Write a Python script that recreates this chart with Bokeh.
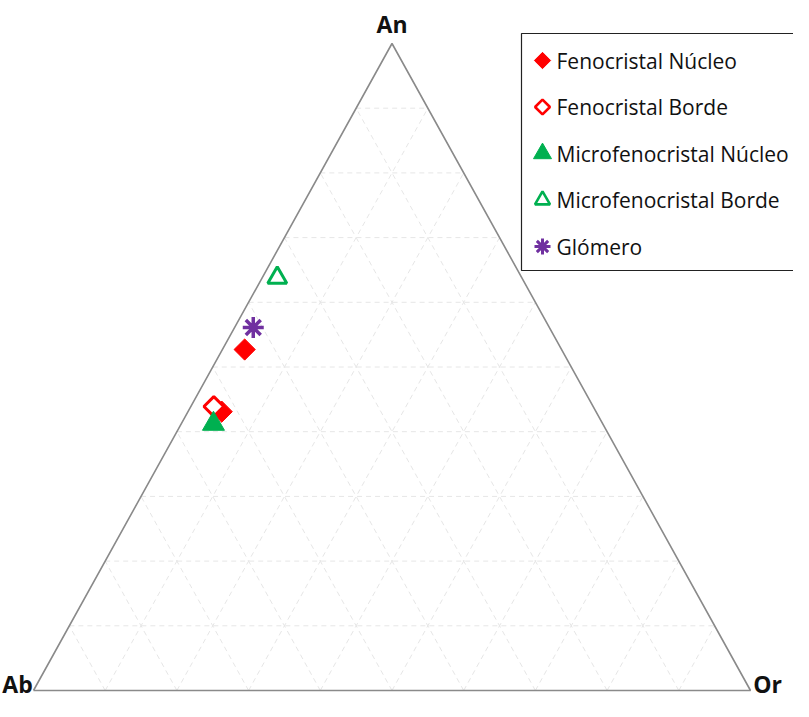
import numpy as np
from bokeh.plotting import figure
from bokeh.models import Range1d
from bokeh.core.properties import value
from bokeh.embed import file_html
from bokeh.resources import INLINE

# ---- data (percent An, percent Or; Ab = remainder) ----
series_names = ["Fenocristal Núcleo", "Fenocristal Borde", "Microfenocristal Núcleo",
                "Microfenocristal Borde", "Glómero"]
fen_nucleo_an = [52.7, 43.1]
fen_nucleo_or = [3.1, 4.7]
fen_borde_an = [43.9]
fen_borde_or = [3.2]
micro_nucleo_an = [41.2]
micro_nucleo_or = [4.5]
micro_borde_an = [63.8]
micro_borde_or = [2.1]
glomero_an = [56.1]
glomero_or = [2.6]
vertex_labels = ["Ab", "Or", "An"]
grid_levels = [10, 20, 30, 40, 50, 60, 70, 80, 90]

# ---- layout (pixels of the canvas) ----
W, H = 793, 701
X0_PX, SPAN_X = 33.0, 717.0      # Ab vertex x, base length
BASE_PX, SPAN_Y = 690.0, 647.0   # base y, triangle height


def px2x(px):
    return (np.asarray(px, dtype=float) - X0_PX) / SPAN_X


def py2y(py):
    return (BASE_PX - np.asarray(py, dtype=float)) / SPAN_Y


def tern(an, or_):
    an = np.asarray(an, dtype=float) / 100.0
    o = np.asarray(or_, dtype=float) / 100.0
    return o + an / 2.0, an


p = figure(width=W, height=H, output_backend="svg", toolbar_location=None,
           x_range=Range1d(float(px2x(0)), float(px2x(W))),
           y_range=Range1d(float(py2y(H)), float(py2y(0))),
           min_border=0, x_axis_location=None, y_axis_location=None)
p.grid.visible = False
p.outline_line_color = None
p.background_fill_color = "white"

# grid lines
gxs, gys = [], []
for g in grid_levels:
    for a0, o0, a1, o1 in [(g, 0, g, 100 - g),          # constant An
                           (0, g, 100 - g, g),          # constant Or
                           (0, 100 - g, 100 - g, 0)]:   # constant Ab
        x0, y0 = tern([a0], [o0])
        x1, y1 = tern([a1], [o1])
        gxs.append([x0[0], x1[0]])
        gys.append([y0[0], y1[0]])
p.multi_line(gxs, gys, line_color="#e6e6e6", line_width=1, line_dash="5 4")

# triangle outline
tx, ty = tern([0, 0, 100, 0], [0, 100, 0, 0])
p.line(tx, ty, line_color="#8a8a8a", line_width=1.6)

# vertex labels
lab_kw = dict(text_font=value("Open Sans"), text_font_style="bold", text_font_size="23px",
              text_align="center", text_baseline="alphabetic", text_color="#111111")
lx, ly = tern([0, 0, 100], [0, 100, 0])
p.text(x=[lx[0] + float(px2x(17) - px2x(X0_PX)), lx[1] + float(px2x(767) - px2x(750))],
       y=[float(py2y(683))] * 2, text=vertex_labels[:2], **lab_kw)
p.text(x=[lx[2]], y=[ly[2] + float(py2y(23) - py2y(43))], text=[vertex_labels[2]], **lab_kw)

RED = "#ff0000"
GREEN = "#00b050"
PURPLE = "#7030a0"

styles = [
    dict(marker="square", angle=np.pi / 4, fill_color=RED, line_color=RED, line_width=1),
    dict(marker="square", angle=np.pi / 4, fill_color="white", line_color=RED, line_width=3),
    dict(marker="triangle", fill_color=GREEN, line_color=GREEN, line_width=1),
    dict(marker="triangle", fill_color="white", line_color=GREEN, line_width=3),
    dict(marker="asterisk", line_color=PURPLE, line_width=3.5),
]
plot_sizes = [15, 14, 22, 19, 21]
legend_sizes = [11.5, 10.5, 18, 15, 16]
legend_lw = [1, 2.6, 1, 2.6, 3]

series = [(fen_nucleo_an, fen_nucleo_or), (fen_borde_an, fen_borde_or),
          (micro_nucleo_an, micro_nucleo_or), (micro_borde_an, micro_borde_or),
          (glomero_an, glomero_or)]
for (an, o), st, sz in zip(series, styles, plot_sizes):
    x, y = tern(an, o)
    p.scatter(x, y, size=sz, **st)

# ---- legend box (drawn by hand, clipped at the right edge as in the original) ----
p.quad(left=[float(px2x(521))], right=[float(px2x(840))],
       top=[float(py2y(33))], bottom=[float(py2y(270))],
       fill_color="white", line_color="#222222", line_width=1.2)
row_py = [60, 106.5, 153, 199.5, 246]
for name, st, sz, lw, ry in zip(series_names, styles, legend_sizes, legend_lw, row_py):
    st2 = dict(st)
    st2["line_width"] = lw
    p.scatter([float(px2x(542))], [float(py2y(ry))], size=sz, **st2)
    p.text(x=[float(px2x(556))], y=[float(py2y(ry))], text=[name],
           text_font=value("Open Sans"), text_font_size="21px",
           text_align="left", text_baseline="middle", text_color="#111111")

open("out.html", "w").write(file_html(p, INLINE))
